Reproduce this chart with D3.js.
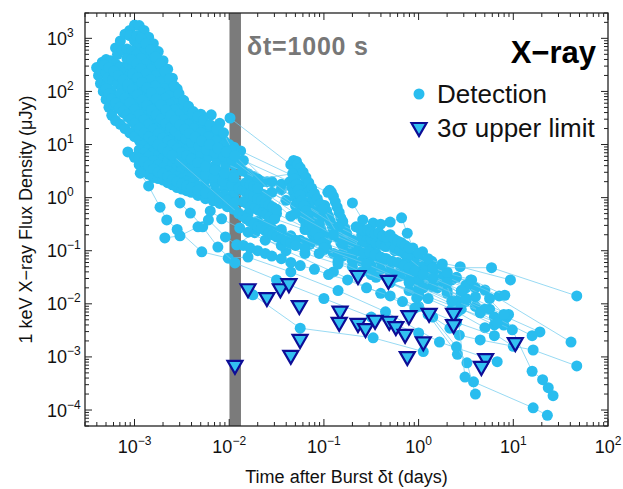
<!DOCTYPE html>
<html><head><meta charset="utf-8">
<script src="https://cdn.jsdelivr.net/npm/d3@7"></script>
<style>body{margin:0;background:#fff}text{font-family:"Liberation Sans",Arial,Helvetica,sans-serif}</style>
</head><body><svg id="c" width="623" height="489"></svg>
<script>
// ---- Data: each light curve is [time after burst (days), 1 keV flux density (uJy)] ----
const grb01 = [[8.9e-4,1410],[1.0e-3,1780],[1.12e-3,1740],[1.26e-3,1410],[1.41e-3,1050],[1.58e-3,794],[1.78e-3,562],[2.0e-3,380],[2.24e-3,263],[2.51e-3,178],[2.82e-3,112],[3.16e-3,70.8],[3.55e-3,50.1],[3.98e-3,41.7],[5.01e-3,37.2],[6.46e-3,36.3],[7.94e-3,25.1],[1.02e-2,31.6],
  [4.47e-2,4.17],[4.79e-2,5.01],[5.13e-2,4.79],[5.37e-2,3.98],[5.62e-2,3.16],[5.89e-2,2.51],[6.17e-2,2.0],[6.46e-2,1.58],[6.76e-2,1.26],[7.08e-2,1.0],[7.41e-2,0.794],[7.76e-2,0.631],[8.13e-2,0.501],[8.51e-2,0.398],[8.91e-2,0.316],[9.33e-2,0.251],[0.1,0.2],[0.107,0.158],
  [0.251,0.126],[1.0,0.0708],[2.75,0.05],[9.33,0.0282]];
const grb02 = [[6.31e-4,661],[7.08e-4,891],[7.94e-4,1200],[8.91e-4,1120],[1.0e-3,891],[1.12e-3,708],[1.26e-3,562],[1.41e-3,417],[1.58e-3,316],[1.78e-3,240],[2.0e-3,174],[2.24e-3,126],[2.51e-3,91.2],[2.82e-3,66.1],[3.16e-3,50.1],[3.55e-3,39.8],[3.98e-3,31.6],[4.47e-3,26.3],[5.01e-3,21.9],[5.62e-3,19.1],[6.31e-3,16.6],[7.08e-3,14.8],[7.94e-3,13.2],[8.91e-3,11.5],[1.0e-2,10],[1.12e-2,8.91],[1.32e-2,7.59],
  [0.110,1.26],[0.115,1.38],[0.120,1.26],[0.126,1.05],[0.132,0.832],[0.138,0.661],[0.145,0.525],[0.151,0.417],[0.158,0.331],[0.166,0.263],[0.174,0.209],[0.182,0.166],[0.191,0.132],[0.209,0.105],
  [0.501,0.0631],[1.58,0.0316],[3.55,0.0282],[8.51,0.00562],[19.1,0.00295]];
const grb03 = [[4.57e-4,355],[5.01e-4,398],[5.62e-4,380],[6.31e-4,331],[7.08e-4,288],[7.94e-4,251],[8.91e-4,209],[1.0e-3,166],[1.12e-3,132],[1.26e-3,100],[1.41e-3,75.9],[1.58e-3,57.5],[1.78e-3,43.7],[2.0e-3,33.1],[2.24e-3,26.3],[2.51e-3,21.4],[2.82e-3,17.8],[3.16e-3,14.8],[3.55e-3,12.6],[3.98e-3,10.5],[4.68e-3,8.91],[5.62e-3,7.59],[7.08e-3,6.31],[8.91e-3,5.25],[1.12e-2,4.17],
  [1.58e-2,2.82],[3.55e-2,1.41],[0.1,0.447],[0.251,0.2],[0.631,0.1],[2.0,0.0398],[5.01,0.0182],[40.7,0.0019]];
const grb04 = [[3.98e-4,282],[4.17e-4,200],[4.37e-4,141],[4.68e-4,100],[5.01e-4,70.8],[5.37e-4,50.1],[5.75e-4,35.5],[6.31e-4,28.2],[7.08e-4,24.0],[7.94e-4,20.0],[8.91e-4,16.6],[1.0e-3,14.1],[1.12e-3,12.0],[1.26e-3,10],[1.41e-3,8.51],[1.58e-3,7.24],[1.78e-3,6.31],[2.0e-3,5.50],[2.24e-3,4.79],[2.51e-3,4.17],[2.82e-3,3.72],[3.16e-3,3.31],[3.80e-3,2.88],[4.47e-3,2.51],[5.62e-3,2.14],[7.08e-3,1.82],[8.91e-3,1.51],[1.12e-2,1.26],
  [1.58e-2,0.891],[3.16e-2,0.501],[7.94e-2,0.224],[0.2,0.112],[0.501,0.0562],[1.26,0.0251],[3.16,0.0112],[7.94,0.00501]];
const grb05 = [[4.47e-4,251],[5.01e-4,224],[5.62e-4,191],[6.31e-4,158],[7.08e-4,126],[7.94e-4,100],[8.91e-4,79.4],[1.0e-3,63.1],[1.12e-3,50.1],[1.26e-3,39.8],[1.41e-3,31.6],[1.58e-3,26.3],[1.78e-3,21.9],[2.0e-3,18.2],[2.24e-3,15.1],[2.51e-3,12.6],[2.82e-3,10.5],[3.16e-3,8.91],[3.55e-3,7.59],[3.98e-3,6.61],[4.68e-3,5.62],[5.62e-3,4.79],[7.08e-3,3.98],[8.91e-3,3.31],[1.12e-2,2.75],
  [1.78e-2,1.78],[3.98e-2,0.891],[8.91e-2,0.355],[0.2,0.158],[0.447,0.0708],[1.12,0.0355],[2.82,0.0158],[8.91,0.00631]];
const grb06 = [[5.01e-4,126],[5.62e-4,105],[6.31e-4,83.2],[7.08e-4,66.1],[7.94e-4,52.5],[8.91e-4,41.7],[1.0e-3,33.1],[1.12e-3,26.3],[1.26e-3,21.4],[1.41e-3,17.4],[1.58e-3,14.5],[1.78e-3,12.0],[2.0e-3,10],[2.24e-3,8.51],[2.51e-3,7.24],[2.82e-3,6.17],[3.16e-3,5.37],[3.55e-3,4.68],[3.98e-3,4.07],[4.68e-3,3.55],[5.62e-3,3.09],[7.08e-3,2.63],[8.91e-3,2.24],[1.12e-2,1.91],
  [1.32e-2,1.74],[1.45e-2,1.62],[1.58e-2,1.51],[1.74e-2,1.41],[1.91e-2,1.32],[2.09e-2,1.23],[2.29e-2,1.15],[2.51e-2,1.07],
  [4.47e-2,0.447],[0.1,0.2],[0.251,0.0891],[0.631,0.0398],[1.58,0.02],[3.98,0.00891]];
const grb07 = [[6.61e-4,501],[7.41e-4,603],[8.32e-4,631],[9.33e-4,575],[1.05e-3,501],[1.17e-3,417],[1.32e-3,331],[1.48e-3,263],[1.66e-3,200],[1.86e-3,151],[2.09e-3,112],[2.34e-3,83.2],[2.63e-3,63.1],[2.95e-3,47.9],[3.31e-3,37.2],[3.72e-3,30.2],[4.17e-3,25.1],[4.79e-3,20.9],[5.62e-3,17.4],[6.61e-3,14.5],[7.94e-3,12.0],[9.55e-3,10],[1.12e-2,8.32],
  [2.51e-2,2.0],[5.62e-2,1.12],
  [0.102,0.708],[0.107,0.562],[0.112,0.447],[0.117,0.355],[0.123,0.282],[0.132,0.224],[0.141,0.178],[0.151,0.141],[0.166,0.112],
  [0.562,0.1],[1.58,0.0447],[3.98,0.02]];
const grb08 = [[8.51e-4,331],[9.55e-4,282],[1.07e-3,229],[1.20e-3,182],[1.35e-3,141],[1.51e-3,110],[1.70e-3,85.1],[1.91e-3,66.1],[2.14e-3,52.5],[2.40e-3,41.7],[2.69e-3,33.1],[3.02e-3,26.9],[3.39e-3,21.9],[3.80e-3,18.2],[4.37e-3,15.1],[5.01e-3,12.6],[5.89e-3,10.5],[6.92e-3,8.91],[8.32e-3,7.59],[1.0e-2,6.46],[1.17e-2,5.50],
  [1.78e-2,2.5],[3.55e-2,1.78],[7.08e-2,0.794],[0.158,0.355],[0.355,0.158],[0.891,0.0708],[2.51,0.0316],[7.08,0.0141]];
const grb09 = [[1.05e-3,1120],[1.17e-3,1000],[1.32e-3,794],[1.48e-3,603],[1.66e-3,447],[1.86e-3,331],[2.09e-3,240],[2.34e-3,174],[2.63e-3,126],[2.95e-3,91.2],[3.31e-3,67.6],[3.72e-3,52.5],[4.17e-3,41.7],[4.68e-3,33.9],[5.37e-3,28.2],[6.31e-3,23.4],[7.41e-3,19.5],[8.71e-3,16.6],
  [1.26e-2,4.47],[2.82e-2,2.0],[6.31e-2,0.708],[0.141,0.282],[0.316,0.141],[0.794,0.0631],[2.24,0.0282],[5.62,0.0126]];
const grb10 = [[8.51e-4,7.24],[1.0e-3,5.75],[1.12e-3,4.17],[1.26e-3,3.31],[1.41e-3,2.75],[1.58e-3,2.40],[1.78e-3,2.29],[2.0e-3,2.14],[2.24e-3,1.91],[2.51e-3,1.74],[2.82e-3,1.55],[3.16e-3,1.45],[3.55e-3,1.35],[3.98e-3,1.26],[4.68e-3,1.10],[5.62e-3,0.955],[6.76e-3,0.871],[7.94e-3,0.776],[9.55e-3,0.676],[1.12e-2,0.603],
  [2.51e-2,0.316],[6.31e-2,0.141],[0.141,0.0794],[0.316,0.0355],[0.794,0.0178],[2.24,0.00794],[5.01,0.00355],[10,0.00158]];
const grb11 = [[1.12e-3,7.94],[1.26e-3,6.92],[1.41e-3,6.03],[1.58e-3,5.01],[1.78e-3,4.17],[2.0e-3,3.63],[2.24e-3,3.16],[2.51e-3,2.75],[2.82e-3,2.51],[3.16e-3,2.24],[3.55e-3,2.04],[3.98e-3,1.86],[4.68e-3,1.66],[5.62e-3,1.48],[7.08e-3,1.29],[8.91e-3,1.12],[1.12e-2,0.977],[1.41e-2,0.832],
  [1.55e-2,0.759],[1.70e-2,0.692],[1.86e-2,0.631],[2.04e-2,0.575],[2.24e-2,0.525],[2.45e-2,0.479],[2.69e-2,0.437],[3.02e-2,0.398],
  [6.31e-2,0.251],[0.158,0.126],[0.398,0.0631],[1.0,0.0316],[2.82,0.0141],[7.94,0.00631]];
const grb12 = [[5.25e-4,178],[5.89e-4,166],[6.61e-4,141],[7.41e-4,117],[8.32e-4,95.5],[9.33e-4,75.9],[1.05e-3,60.3],[1.17e-3,49.0],[1.32e-3,39.8],[1.48e-3,33.1],[1.66e-3,27.5],[1.86e-3,22.9],[2.09e-3,19.1],[2.34e-3,16.2],[2.63e-3,13.8],[2.95e-3,11.7],[3.31e-3,10.2],[3.72e-3,8.91],[4.27e-3,7.76],[5.01e-3,6.76],[6.03e-3,5.89],[7.41e-3,5.13],[9.12e-3,4.37],
  [1.38e-2,3.16],[2.24e-2,2.0],[5.01e-2,0.708],[0.126,0.251],[0.316,0.112],[1.0,0.0447],[3.16,0.02]];
const grb13 = [[6.03e-4,56.2],[6.76e-4,47.9],[7.59e-4,39.8],[8.51e-4,33.1],[9.55e-4,26.9],[1.07e-3,21.9],[1.20e-3,18.2],[1.35e-3,15.1],[1.51e-3,12.6],[1.70e-3,10.5],[1.91e-3,8.91],[2.14e-3,7.59],[2.40e-3,6.46],[2.69e-3,5.50],[3.02e-3,4.79],[3.47e-3,4.17],[3.98e-3,3.63],[4.68e-3,3.16],[5.62e-3,2.75],[6.92e-3,2.40],[8.51e-3,2.04],[1.07e-2,1.74],
  [1.26e-2,1.51],[1.38e-2,1.38],[1.51e-2,1.26],[1.66e-2,1.15],[1.82e-2,1.05],[2.0e-2,0.955],[2.19e-2,0.871],[2.40e-2,0.794],[2.63e-2,0.724],[2.88e-2,0.661],[3.16e-2,0.603],
  [5.25e-2,4.17],[5.62e-2,3.63],[6.03e-2,3.02],[6.46e-2,2.40],[6.92e-2,1.91],[7.41e-2,1.51],[7.94e-2,1.20],[8.51e-2,0.955],[9.12e-2,0.759],[9.77e-2,0.603],
  [0.158,0.141],[0.355,0.0794],[0.794,0.0398],[2.0,0.0178],[5.62,0.00794]];
const grb14 = [[8.32e-4,417],[9.33e-4,398],[1.05e-3,331],[1.17e-3,269],[1.32e-3,214],[1.48e-3,166],[1.66e-3,126],[1.86e-3,95.5],[2.09e-3,74.1],[2.34e-3,57.5],[2.63e-3,45.7],[2.95e-3,36.3],[3.31e-3,29.5],[3.72e-3,24.0],[4.27e-3,20.0],[5.01e-3,16.6],[6.03e-3,13.8],[7.24e-3,11.5],[8.71e-3,9.55],[1.05e-2,7.94],
  [1.41e-2,5.0],
  [4.37e-2,2.0],[4.57e-2,1.58],[4.79e-2,1.26],[5.01e-2,1.0],[5.25e-2,0.794],[5.5e-2,0.631],[5.75e-2,0.501],[6.03e-2,0.398],[6.46e-2,0.316],[6.92e-2,0.251],[7.59e-2,0.2],[8.32e-2,0.158],
  [0.2,0.0891],[1.0,0.02],[2.51,0.00891],[6.31,0.004]];
const grb15 = [[1.15e-3,2.88],[1.41e-3,1.66],[1.86e-3,0.661],[2.19e-3,0.38],[2.82e-3,0.251],[5.13e-3,0.0955],[9.77e-3,0.0724],[1.58e-2,0.0759],[4.47e-2,0.0398],[0.141,0.0178],[0.447,0.00708],[1.66,0.0019],[6.76,0.000813]];
const grb16 = [[3.02e-3,0.794],[3.89e-3,0.513],[5.25e-3,0.282],[7.59e-3,0.117],[1.15e-2,0.0589],[3.16e-2,0.0282],[0.1,0.0126],[0.316,0.00562],[1.0,0.00282]];
const grb17 = [[2.09e-3,0.174],[3.02e-3,0.191],[4.68e-3,0.282],[6.03e-3,0.38],[9.12e-3,0.182],[1.20e-2,0.129],[1.86e-2,0.219],[3.98e-2,0.1],[0.126,0.0398],[0.398,0.0158],[1.26,0.00631],[2.57,0.00112]];
const grb18 = [[6.31e-3,0.562],[8.32e-3,0.398],[1.29e-2,0.269],[1.58e-2,0.224],[2.40e-2,0.158],[3.55e-2,0.126],[6.31e-2,0.0891],[0.141,0.0562],[0.355,0.0316],[1.0,0.0158],[2.82,0.00794],[7.94,0.00398]];
const grb19 = [[1.78e-2,0.0148],[5.62e-2,0.00347],[0.331,0.00229],[1.12,0.00126]];
const grb20 = [[0.2,0.794],[0.257,0.38],[0.331,0.331],[0.398,0.316],[0.501,0.347],[0.661,0.417],[0.759,0.214],[0.871,0.112],[1.10,0.0955],[1.38,0.0631],[1.70,0.0479],[5.89,0.0479],[46.8,0.0141]];
const grb21 = [[0.251,0.178],[0.282,0.158],[0.316,0.166],[0.355,0.141],[0.398,0.132],[0.447,0.12],[0.501,0.141],[0.562,0.112],[0.631,0.1],[0.708,0.0891],[0.794,0.0794],[0.891,0.0631],[1.12,0.0501],[1.41,0.0398],[2.0,0.0316],[3.16,0.0224],[3.98,0.0135]];
const grb22 = [[0.126,0.0891],[0.158,0.0794],[0.2,0.0708],[0.251,0.0631],[0.316,0.0525],[0.398,0.0447],[0.501,0.0398],[0.631,0.0331],[0.794,0.0282],[1.0,0.0251],[1.41,0.0209],[2.0,0.0158],[3.16,0.0112],[5.01,0.00794]];
const grb23 = [[1.41e-2,0.126],[1.66e-2,0.112],[2.0e-2,0.1],[2.40e-2,0.0891],[2.82e-2,0.0794],[3.55e-2,0.0708],[4.47e-2,0.0603],[5.62e-2,0.0525],[7.94e-2,0.0447],[0.112,0.0355],[0.178,0.0282],[0.282,0.02],[0.501,0.0141],[1.0,0.00891],[2.51,0.00447],[6.31,0.00251]];
const grb24 = [[2.0e-2,0.355],[2.40e-2,0.302],[2.82e-2,0.263],[3.55e-2,0.224],[4.47e-2,0.191],[5.62e-2,0.158],[7.08e-2,0.132],[0.1,0.105],[0.141,0.0832],[0.2,0.0631],[0.316,0.0447],[0.562,0.0316],[1.12,0.02],[2.51,0.0112],[6.31,0.00562],[15.8,0.00251]];
const grb25 = [[0.676,0.011],[0.912,0.00832],[1.41,0.00562],[2.14,0.00347],[2.69,0.00257],[4.47,0.00209],[16.2,0.00135],[46.8,0.000676]];
const grb26 = [[0.759,0.0759],[1.12,0.0427],[1.78,0.0302],[2.95,0.0129],[4.47,0.00676],[6.76,0.00437],[9.77,0.00324],[15.8,0.000537],[20.4,0.000372],[23.4,0.000263],[26.3,0.000186]];
const grb27 = [[0.955,0.0129],[2.51,0.00155],[3.24,0.000776],[3.98,0.0002]];
const grb28 = [[1.02,0.0324],[1.91,0.0257],[2.57,0.00708],[3.09,0.000417],[3.8,0.000339],[16.2,0.00011],[22.9,0.0000794]];
const grb29 = [[1.41,0.0479],[2.0,0.038],[3.63,0.0282],[8.13,0.0145]];
const grb30 = [[4.79e-4,316],[5.37e-4,282],[6.03e-4,240],[6.76e-4,200],[7.59e-4,166],[8.51e-4,135],[9.55e-4,110],[1.07e-3,87.1],[1.20e-3,69.2],[1.35e-3,55.0],[1.51e-3,44.7],[1.70e-3,36.3],[1.91e-3,30.2],[2.14e-3,25.1],[2.40e-3,20.9],[2.69e-3,17.8],[3.02e-3,15.1],[3.47e-3,12.9],[3.98e-3,11.0],[4.79e-3,9.33],[5.75e-3,7.94],[7.08e-3,6.92],[8.71e-3,6.03],[1.07e-2,5.25],
  [2.0e-2,2.24],
  [4.68e-2,2.82],[4.9e-2,2.24],[5.13e-2,1.78],[5.37e-2,1.41],[5.62e-2,1.12],[5.89e-2,0.891],[6.17e-2,0.708],[6.46e-2,0.562],[6.76e-2,0.447],[7.08e-2,0.355],[7.59e-2,0.282],[8.13e-2,0.224],[8.91e-2,0.178],[9.77e-2,0.141],[0.107,0.112],
  [0.3,0.07],[1.0,0.03],[3.16,0.0126]];
const grb31 = [[9.55e-4,214],[1.07e-3,182],[1.20e-3,148],[1.35e-3,117],[1.51e-3,93.3],[1.70e-3,72.4],[1.91e-3,56.2],[2.14e-3,44.7],[2.40e-3,35.5],[2.69e-3,28.8],[3.02e-3,23.4],[3.39e-3,19.5],[3.80e-3,16.2],[4.37e-3,13.8],[5.13e-3,11.7],[6.17e-3,10],[7.59e-3,8.51],[9.33e-3,7.24],[1.15e-2,6.17],
  [2.82e-2,1.26],[8.91e-2,0.316],[0.251,0.126],[0.708,0.0562],[2.0,0.0251]];
const grb32 = [[1.12e-3,5.50],[1.26e-3,4.79],[1.41e-3,4.07],[1.58e-3,3.47],[1.78e-3,3.02],[2.0e-3,2.82],[2.24e-3,2.51],[2.51e-3,2.19],[2.82e-3,2.0],[3.16e-3,1.82],[3.55e-3,1.66],[3.98e-3,1.55],[4.68e-3,1.38],[5.62e-3,1.23],[6.76e-3,1.10],[7.94e-3,1.0],[9.55e-3,0.891],[1.12e-2,0.794],
  [1.58e-2,0.501],[3.55e-2,0.251],[0.1,0.112],[0.282,0.0562],[0.794,0.0251],[2.24,0.0112]];
const grb33 = [[7.08e-4,89.1],[7.94e-4,74.1],[8.91e-4,60.3],[1.0e-3,45.7],[1.12e-3,36.3],[1.26e-3,29.5],[1.41e-3,24.0],[1.58e-3,19.5],[1.78e-3,16.2],[2.0e-3,13.5],[2.24e-3,11.5],[2.51e-3,9.77],[2.82e-3,8.32],[3.16e-3,7.08],[3.55e-3,6.17],[3.98e-3,5.37],[4.68e-3,4.57],[5.62e-3,3.89],[7.08e-3,3.31],[8.91e-3,2.82],[1.12e-2,2.40],
  [1.51e-2,1.91],[1.66e-2,1.74],[1.82e-2,1.62],[2.0e-2,1.51],
  [5.01e-2,0.501],[0.126,0.2],[0.355,0.0891],[1.0,0.0398],[2.82,0.0178]];
const grb34 = [[5.01e-4,112],[5.37e-4,89.1],[5.75e-4,72.4],[6.31e-4,60.3],[6.92e-4,50.1],[7.59e-4,42.7],[8.32e-4,36.3],[9.12e-4,30.2],[1.0e-3,25.1],[1.12e-3,20.4],[1.26e-3,16.6],[1.41e-3,13.8],[1.58e-3,11.7],[1.78e-3,10],[2.0e-3,8.51],[2.24e-3,7.24],[2.51e-3,6.31],
  [1.26e-2,0.501],[5.01e-2,0.158],[0.2,0.0501],[1.0,0.0141]];
const grb35 = [[0.219,0.282],[0.240,0.263],[0.263,0.240],[0.288,0.251],[0.316,0.224],[0.347,0.209],[0.380,0.219],[0.417,0.191],[0.457,0.178],[0.501,0.2],[0.550,0.166],[0.603,0.151],[0.661,0.141],[0.724,0.126],[0.794,0.112],[1.0,0.0891],[1.26,0.0708],[1.78,0.0562]];
const grb36 = [[0.229,0.1],[0.263,0.0891],[0.302,0.0955],[0.347,0.0832],[0.398,0.0759],[0.457,0.0708],[0.525,0.0631],[0.603,0.0603],[0.692,0.0525],[0.794,0.0479],[0.912,0.0417],[1.12,0.0355],[1.41,0.0302]];
const grb37 = [[1.38e-2,0.447],[1.51e-2,0.398],[1.66e-2,0.355],[1.82e-2,0.316],[2.0e-2,0.282],[2.19e-2,0.263],[2.40e-2,0.240],[2.63e-2,0.219],[2.88e-2,0.2],[3.16e-2,0.182],[3.55e-2,0.166],[3.98e-2,0.151],[4.47e-2,0.138],[5.01e-2,0.126],[6.31e-2,0.112],[8.91e-2,0.0891],[0.141,0.0631],[0.251,0.0398],[0.501,0.0251],[1.26,0.0126]];

// 3-sigma upper limits [days, uJy]
const upperLimits = [[0.0115,6.5e-4],[0.0158,0.018],[0.025,0.0123],[0.0347,0.018],[0.0427,0.0224],[0.055,0.0087],[0.056,0.002],[0.0447,0.001],
  [0.229,0.032],[0.48,0.026],[0.148,0.0068],[0.145,0.0042],[0.229,0.004],[0.275,0.0032],[0.347,0.0046],[0.49,0.0044],[0.575,0.0035],[0.72,0.0025],[0.79,0.0056],[0.76,0.00095],[1.12,0.0018],
  [1.29,0.0062],[2.34,0.0062],[2.34,0.0038],[10.5,0.00174],[5.1,0.00087],[4.6,0.00062]];

const lightCurves = [grb01,grb02,grb03,grb04,grb05,grb06,grb07,grb08,grb09,grb10,grb11,grb12,grb13,grb14,grb15,grb16,grb17,grb18,grb19,grb20,grb21,grb22,grb23,grb24,grb25,grb26,grb27,grb28,grb29,grb30,grb31,grb32,grb33,grb34,grb35,grb36,grb37];
const xTickExponents = [-3,-2,-1,0,1,2];
const yTickExponents = [-4,-3,-2,-1,0,1,2,3];
const markTimeSeconds = 1000;
const legendLabels = ["Detection","3\u03c3 upper limit"];

// ---- Drawing ----
const svg = d3.select("#c");
const L=85, T=13, R=608, B=426;
const x = d3.scaleLog().domain([3e-4,100]).range([L,R]);
const y = d3.scaleLog().domain([5e-5,3000]).range([B,T]);
const ptColor="#29bdef", lineColor="#6ccaee";

svg.append("clipPath").attr("id","clip").append("rect").attr("x",L).attr("y",T).attr("width",R-L).attr("height",B-T);
const plot = svg.append("g").attr("clip-path","url(#clip)");

plot.append("line").attr("x1",x(markTimeSeconds/86400)).attr("x2",x(markTimeSeconds/86400))
  .attr("y1",T).attr("y2",B).attr("stroke","#7b7b7b").attr("stroke-width",11.5);

const line = d3.line().x(d=>x(d[0])).y(d=>y(d[1]));
lightCurves.forEach(lc=>{
  const g = plot.append("g");
  g.append("path").attr("d",line(lc)).attr("fill","none").attr("stroke",lineColor).attr("stroke-width",0.7);
  g.selectAll("circle").data(lc).join("circle").attr("cx",d=>x(d[0])).attr("cy",d=>y(d[1])).attr("r",5.5).attr("fill",ptColor);
});

const triPath = "M-7.5,-6L7.5,-6L0,7Z";
plot.selectAll("path.ul").data(upperLimits).join("path").attr("class","ul")
  .attr("d",triPath).attr("transform",d=>`translate(${x(d[0])},${y(d[1])})`)
  .attr("fill","#33c1f1").attr("stroke","#0d0d96").attr("stroke-width",2.2);

// frame and ticks
const ax = svg.append("g").attr("stroke","#222").attr("stroke-width",1);
ax.append("rect").attr("x",L).attr("y",T).attr("width",R-L).attr("height",B-T).attr("fill","none").attr("stroke-width",1.3);
const isMajor = v => Math.abs(Math.log10(v)-Math.round(Math.log10(v)))<1e-6;
x.ticks().forEach(v=>{
  const px=x(v), len=isMajor(v)?7:4;
  ax.append("line").attr("x1",px).attr("x2",px).attr("y1",B).attr("y2",B-len);
  ax.append("line").attr("x1",px).attr("x2",px).attr("y1",T).attr("y2",T+len);
});
y.ticks().forEach(v=>{
  const py=y(v), len=isMajor(v)?7:4;
  ax.append("line").attr("x1",L).attr("x2",L+len).attr("y1",py).attr("y2",py);
  ax.append("line").attr("x1",R).attr("x2",R-len).attr("y1",py).attr("y2",py);
});

const fmtExp = e => (e<0?"\u2212":"")+Math.abs(e);
xTickExponents.forEach(e=>{
  const t = svg.append("text").attr("x",x(Math.pow(10,e))).attr("y",453).attr("text-anchor","middle").attr("font-size",18).attr("fill","#111");
  t.append("tspan").text("10");
  t.append("tspan").attr("font-size",12).attr("dy",-8).text(fmtExp(e));
});
yTickExponents.forEach(e=>{
  const t = svg.append("text").attr("x",47).attr("y",y(Math.pow(10,e))+6.5).attr("font-size",18).attr("fill","#111");
  t.append("tspan").text("10");
  t.append("tspan").attr("font-size",12).attr("dy",-8).text(fmtExp(e));
});

svg.append("text").attr("x",(L+R)/2).attr("y",483).attr("text-anchor","middle").attr("font-size",18).attr("fill","#111")
  .text("Time after Burst \u03b4t (days)");
svg.append("text").attr("transform",`translate(32,${(T+B)/2}) rotate(-90)`).attr("text-anchor","middle").attr("font-size",18).attr("fill","#111")
  .text("1 keV X\u2212ray Flux Density (\u03bcJy)");

svg.append("text").attr("x",247).attr("y",55).attr("font-size",25).attr("letter-spacing",0.8).attr("font-weight","bold").attr("fill","#777").text("\u03b4t=1000 s");
svg.append("text").attr("x",596).attr("y",63).attr("text-anchor","end").attr("font-size",31).attr("font-weight","bold").attr("fill","#000").text("X\u2212ray");

svg.append("circle").attr("cx",419).attr("cy",94).attr("r",5.5).attr("fill",ptColor);
svg.append("text").attr("x",437).attr("y",103).attr("font-size",26).attr("fill","#111").text(legendLabels[0]);
svg.append("path").attr("d",triPath).attr("transform","translate(419,129)").attr("fill","#33c1f1").attr("stroke","#0d0d96").attr("stroke-width",2.2);
svg.append("text").attr("x",437).attr("y",137).attr("font-size",26).attr("fill","#111").text(legendLabels[1]);
</script></body></html>
